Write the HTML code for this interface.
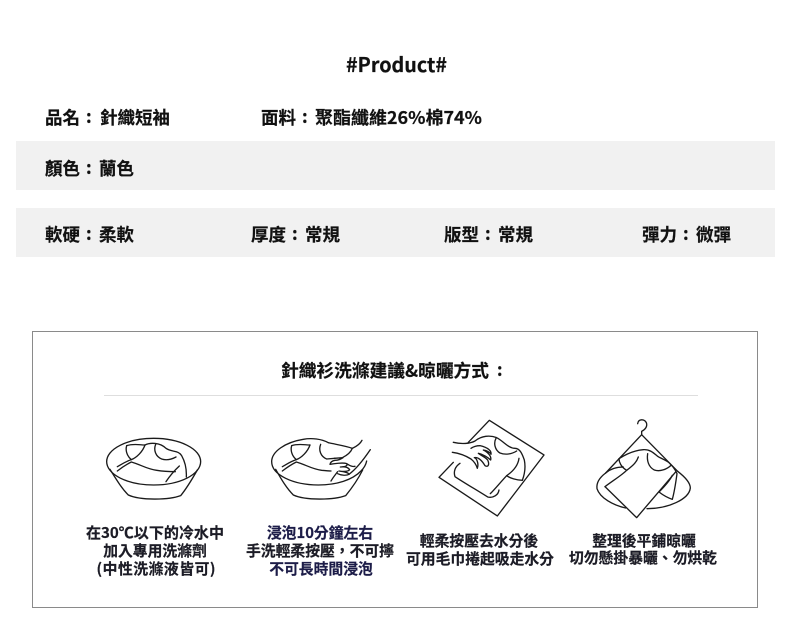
<!DOCTYPE html>
<html><head><meta charset="utf-8">
<style>
html,body{margin:0;padding:0;background:#fff}
svg{display:block}
text{font-family:"Noto Sans CJK TC","Liberation Sans",sans-serif;font-weight:700;fill:#111;stroke:#111;stroke-width:.2px}
.a{font-size:17.5px}
.b{font-size:14.8px;text-anchor:middle;fill:#1c1c28}
.l path,.l ellipse{fill:none;stroke:#1a1a1a;stroke-width:4;stroke-linecap:round;stroke-linejoin:round}
</style></head>
<body>
<svg width="790" height="644" viewBox="0 0 790 644" xmlns="http://www.w3.org/2000/svg">
<rect width="790" height="644" fill="#fff"/>
<rect x="16" y="141" width="759" height="49" fill="#f1f1f1"/>
<rect x="16" y="208" width="759" height="49" fill="#f1f1f1"/>
<rect x="32.5" y="331.5" width="725" height="276" fill="#fff" stroke="#8a8a8a"/>
<rect x="104" y="395" width="594" height="1" fill="#dedede"/>

<text x="346" y="72" style="font-size:20px" textLength="101" lengthAdjust="spacingAndGlyphs">#Product#</text>

<text class="a" x="45" y="124">品名</text><text class="a" x="86" y="123">:</text><text class="a" x="100" y="124">針織短袖</text>
<text class="a" x="261" y="124">面料</text><text class="a" x="302" y="123">:</text><text class="a" x="315" y="124" textLength="167" lengthAdjust="spacingAndGlyphs">聚酯纖維26%棉74%</text>
<text class="a" x="45" y="175">顏色</text><text class="a" x="86" y="174">:</text><text class="a" x="99" y="175">蘭色</text>
<text class="a" x="45" y="241">軟硬</text><text class="a" x="86" y="240">:</text><text class="a" x="99" y="241">柔軟</text>
<text class="a" x="251" y="241">厚度</text><text class="a" x="292" y="240">:</text><text class="a" x="305" y="241">常規</text>
<text class="a" x="444" y="241">版型</text><text class="a" x="485" y="240">:</text><text class="a" x="498" y="241">常規</text>
<text class="a" x="642" y="241">彈力</text><text class="a" x="683" y="240">:</text><text class="a" x="696" y="241">微彈</text>

<text x="281" y="377" style="font-size:17.6px" textLength="208" lengthAdjust="spacingAndGlyphs">針織衫洗滌建議&amp;晾曬方式</text>
<text x="497" y="376" style="font-size:17px">:</text>

<text class="b" x="155" y="538" textLength="138" lengthAdjust="spacingAndGlyphs">在30℃以下的冷水中</text>
<text class="b" x="155" y="556">加入專用洗滌劑</text>
<text class="b" x="156" y="574" textLength="119" lengthAdjust="spacing">(中性洗滌液皆可)</text>
<text class="b" x="320" y="538" style="fill:#1c1c48;stroke:#1c1c48">浸泡10分鐘左右</text>
<text class="b" x="320" y="556">手洗輕柔按壓，不可擰</text>
<text class="b" x="321" y="574" style="fill:#1c1c48;stroke:#1c1c48">不可長時間浸泡</text>
<text class="b" x="479" y="546">輕柔按壓去水分後</text>
<text class="b" x="480" y="564">可用毛巾捲起吸走水分</text>
<text class="b" x="644" y="546">整理後平鋪晾曬</text>
<text class="b" x="643" y="563">切勿懸掛暴曬、勿烘乾</text>

<!-- Bowl 1 -->
<g class="l" transform="translate(90 425) scale(.3333)">
<ellipse cx="191" cy="110" rx="141" ry="70"/>
<path d="M60 133C80 165 95 190 115 210C150 226 235 226 272 212C290 190 305 165 322 135"/>
<path d="M110 62C106 75 110 92 124 104C140 98 158 80 165 60"/>
<path d="M110 62C130 55 150 60 165 60C180 52 210 52 228 70C245 82 265 75 275 92C288 115 290 135 289 156"/>
<path d="M197 58C190 75 197 95 215 102C230 107 245 103 258 96"/>
<path d="M124 104C105 110 92 120 82 125M82 138C95 128 110 118 124 111C150 118 170 132 200 136C225 140 245 140 256 140"/>
<path d="M228 170C240 152 255 135 268 123"/>
</g>

<!-- Bowl 2 -->
<g class="l" transform="translate(265 425) scale(.3333)">
<path d="M190 53C170 42 140 38 115 43C60 52 20 80 20 110C20 150 85 180 160 180C215 180 262 165 288 138C298 128 303 118 305 108"/>
<path d="M190 53C210 58 240 62 262 70C280 62 288 52 291 46"/>
<path d="M32 133C50 165 65 190 85 210C120 226 205 226 242 212C260 190 278 165 293 135"/>
<path d="M80 62C76 75 80 92 94 104C110 98 128 80 135 60"/>
<path d="M80 62C100 55 120 60 135 60"/>
<path d="M167 58C160 75 167 95 185 102L210 100"/>
<path d="M94 104C75 110 62 120 52 125M52 138C65 128 80 118 94 111C120 118 140 132 170 136C180 137 190 138 198 138"/>
<path d="M198 168C205 156 212 148 218 140"/>
<path d="M208 100L234 98C225 104 215 106 210 106C200 108 196 112 195 118C205 116 235 112 245 116C250 122 240 126 226 126C240 124 250 128 254 134C250 140 236 140 222 138C236 140 250 142 252 148C245 152 230 152 218 146"/>
<path d="M232 98C248 90 258 80 262 70M252 148C270 135 295 105 316 74M245 116C255 122 262 126 270 124"/>
</g>

<!-- Towel -->
<g class="l" transform="translate(435 415) scale(.3333)">
<path d="M100 82L163 16L327 120L187 303L12 187L55 142"/>
<path d="M55 82C80 88 105 86 120 78C140 62 165 60 185 68C205 78 220 100 240 100C255 100 262 118 268 135C272 155 270 175 262 196C245 195 225 190 215 182C198 200 180 222 166 236"/>
<path d="M183 70C175 85 180 105 195 114C210 120 230 118 245 108"/>
<path d="M215 182C240 165 250 145 252 130"/>
<path d="M52 112C75 115 95 124 108 132C118 140 124 150 127 160C132 145 125 130 118 128C128 125 140 135 150 152C160 158 164 148 158 135C150 125 135 120 130 115C145 118 160 128 167 135C170 125 160 112 145 105C155 106 165 112 168 118C170 108 160 98 135 92C125 92 115 95 108 100"/>
<path d="M75 145C60 155 55 170 60 185C90 205 130 228 158 246C175 250 190 240 192 225"/>
</g>

<!-- Hanger -->
<g class="l" transform="translate(585 412) scale(.3333)">
<path d="M170 67L170 58C182 52 188 42 184 32C178 20 160 20 158 35"/>
<path d="M170 68L278 178M170 68L62 183"/>
<path d="M60 224L155 317L272 180"/>
<path d="M60 224C85 205 110 190 125 175C145 160 155 150 160 135"/>
<path d="M102 140C125 125 150 115 175 113C195 112 205 122 218 133C228 140 240 142 252 152C262 162 270 170 276 185C272 215 268 240 262 262C250 258 235 250 222 240"/>
<path d="M188 125C185 145 190 165 208 174C225 180 245 172 258 160"/>
<path d="M102 140C102 150 108 165 125 175M62 183C75 172 95 165 115 165"/>
<path d="M222 240C240 222 255 205 262 190"/>
<path d="M62 183C42 198 34 215 36 230C45 258 85 280 122 288"/>
<path d="M278 178C300 195 316 212 316 228C312 262 250 290 186 290"/>
</g>
</svg>
</body></html>
